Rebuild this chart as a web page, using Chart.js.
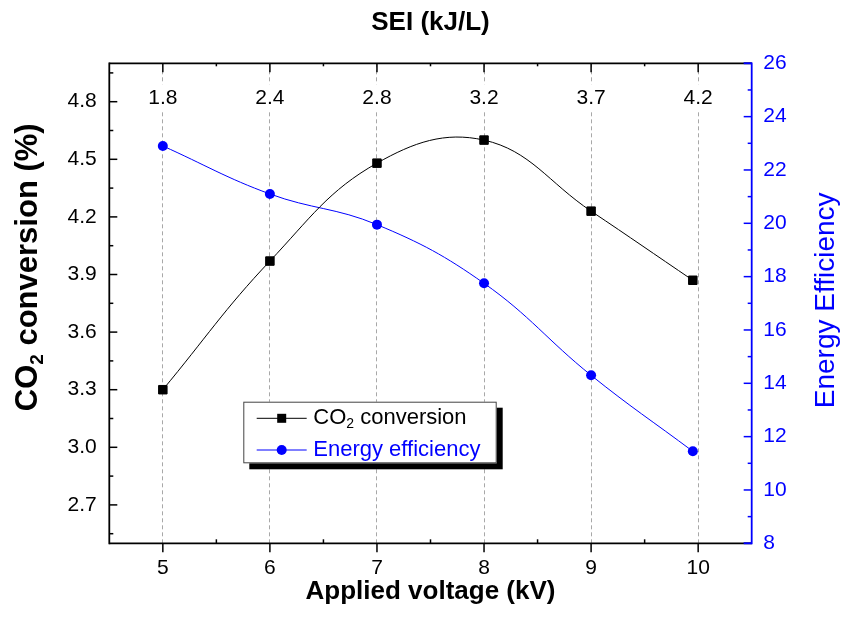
<!DOCTYPE html>
<html>
<head>
<meta charset="utf-8">
<script src="https://cdn.jsdelivr.net/npm/chart.js@4.4.1/dist/chart.umd.min.js"></script>
<style>
  html, body { margin: 0; padding: 0; background: #fff; }
  #wrap { width: 842px; height: 631px; }
</style>
</head>
<body>
<div id="wrap"><canvas id="c" width="842" height="631"></canvas></div>
<script>
// Applied voltage (kV) of each measurement
const voltage = [5, 6, 7, 8, 9, 9.95];
// CO2 conversion (%)
const co2Conversion = [3.30, 3.97, 4.48, 4.60, 4.23, 3.87];
// Energy efficiency
const energyEfficiency = [22.9, 21.1, 19.95, 17.75, 14.3, 11.45];

// Axis ticks
const voltageTicks = [5, 6, 7, 8, 9, 10];
const seiLabels = ['1.8', '2.4', '2.8', '3.2', '3.7', '4.2'];
const co2Ticks = [2.7, 3.0, 3.3, 3.6, 3.9, 4.2, 4.5, 4.8];
const effTicks = [8, 10, 12, 14, 16, 18, 20, 22, 24, 26];

const FONT = "'Liberation Sans', Arial, Helvetica, sans-serif";
const BLUE = '#0000ff';
Chart.defaults.font.family = FONT;
Chart.defaults.color = '#000';

const pts = (ys) => voltage.map((x, i) => ({ x, y: ys[i] }));
const fixTicks = (list) => (scale) => { scale.ticks = list.map(v => ({ value: v })); };

// Frame, inward/outward tick marks, rotated axis titles and the legend box
const framePlugin = {
  id: 'frame',
  afterDatasetsDraw(chart) {
    const { ctx, chartArea: a, scales } = chart;
    const x = scales.x, y = scales.y, y1 = scales.y1;
    ctx.save();
    ctx.lineCap = 'butt';

    const seg = (x0, y0, x1, y1c, color, w) => {
      ctx.strokeStyle = color; ctx.lineWidth = w;
      ctx.beginPath(); ctx.moveTo(x0, y0); ctx.lineTo(x1, y1c); ctx.stroke();
    };

    // left axis ticks (inward)
    co2Ticks.forEach(v => { const p = y.getPixelForValue(v); seg(a.left, p, a.left + 8, p, '#000', 1.5); });
    co2Ticks.concat([co2Ticks[0] - 0.3]).forEach(v => {
      const m = v + 0.15;
      if (m > y.min && m < y.max) { const p = y.getPixelForValue(m); seg(a.left, p, a.left + 4, p, '#000', 1.5); }
    });
    // right axis ticks (inward, blue)
    effTicks.forEach(v => { const p = y1.getPixelForValue(v); seg(a.right, p, a.right - 8, p, BLUE, 1.5); });
    effTicks.forEach(v => {
      const m = v + 1;
      if (m < y1.max) { const p = y1.getPixelForValue(m); seg(a.right, p, a.right - 4, p, BLUE, 1.5); }
    });
    // bottom axis: major outward, minor inward
    voltageTicks.forEach(v => { const p = x.getPixelForValue(v); seg(p, a.bottom, p, a.bottom + 9, '#000', 1.5); });
    voltageTicks.slice(0, -1).forEach(v => { const p = x.getPixelForValue(v + 0.5); seg(p, a.bottom, p, a.bottom - 4, '#000', 1.5); });
    // top axis: inward ticks
    voltageTicks.forEach(v => { const p = x.getPixelForValue(v); seg(p, a.top, p, a.top + 9, '#000', 1.5); });
    voltageTicks.slice(0, -1).forEach(v => { const p = x.getPixelForValue(v + 0.5); seg(p, a.top, p, a.top + 3, '#000', 1.5); });

    // frame
    seg(a.left, a.top, a.right, a.top, '#000', 1.8);
    seg(a.left, a.bottom, a.right, a.bottom, '#000', 1.8);
    seg(a.left, a.top - 0.9, a.left, a.bottom + 0.9, '#000', 1.8);
    seg(a.right - 8, a.top, a.right, a.top, BLUE, 1.8);
    seg(a.right - 8, a.bottom, a.right, a.bottom, BLUE, 1.8);
    seg(a.right, a.top - 0.9, a.right, a.bottom + 0.9, BLUE, 1.8);
    ctx.restore();
  },
  afterDraw(chart) {
    const { ctx, chartArea: a } = chart;
    ctx.save();
    // left title: CO2 conversion (%)
    ctx.translate(28.5, a.top + 204);
    ctx.rotate(-Math.PI / 2);
    ctx.fillStyle = '#000';
    ctx.textBaseline = 'middle';
    ctx.textAlign = 'left';
    const big = 'bold 31px ' + FONT, small = 'bold 19px ' + FONT;
    ctx.font = big; const w1 = ctx.measureText('CO').width;
    ctx.font = small; const w2 = ctx.measureText('2').width;
    ctx.font = big; const w3 = ctx.measureText(' conversion (%)').width;
    let sx = -(w1 + w2 + w3) / 2;
    ctx.font = big; ctx.fillText('CO', sx, 0); sx += w1;
    ctx.font = small; ctx.fillText('2', sx, 9); sx += w2;
    ctx.font = big; ctx.fillText(' conversion (%)', sx, 0);
    ctx.restore();

    // right title: Energy Efficiency
    ctx.save();
    ctx.translate(826, a.top + 237);
    ctx.rotate(-Math.PI / 2);
    ctx.fillStyle = BLUE;
    ctx.font = '28px ' + FONT;
    ctx.textAlign = 'center';
    ctx.textBaseline = 'middle';
    ctx.fillText('Energy Efficiency', 0, 0);
    ctx.restore();

    // legend box with drop shadow
    const bx = a.left + 134, by = a.top + 338.4, bw = 253.4, bh = 61.6;
    ctx.save();
    ctx.fillStyle = '#000';
    ctx.fillRect(bx + 6, by + 6, bw, bh);
    ctx.fillStyle = '#fff';
    ctx.fillRect(bx, by, bw, bh);
    ctx.strokeStyle = '#444'; ctx.lineWidth = 1;
    ctx.strokeRect(bx + 0.5, by + 0.5, bw - 1, bh - 1);

    const rows = [
      { y: by + 16.6, color: '#000', marker: 'rect' },
      { y: by + 48.3, color: BLUE, marker: 'circle' }
    ];
    rows.forEach(r => {
      ctx.strokeStyle = r.color; ctx.lineWidth = 1;
      ctx.beginPath(); ctx.moveTo(bx + 13.4, r.y); ctx.lineTo(bx + 63.4, r.y); ctx.stroke();
      ctx.fillStyle = r.color;
      if (r.marker === 'rect') ctx.fillRect(bx + 38.4 - 4.5, r.y - 4.5, 9, 9);
      else { ctx.beginPath(); ctx.arc(bx + 38.4, r.y, 5, 0, Math.PI * 2); ctx.fill(); }
    });
    ctx.textBaseline = 'middle'; ctx.textAlign = 'left';
    let tx = bx + 70;
    ctx.fillStyle = '#000';
    ctx.font = '22px ' + FONT; ctx.fillText('CO', tx, rows[0].y); tx += ctx.measureText('CO').width;
    ctx.font = '14px ' + FONT; ctx.fillText('2', tx, rows[0].y + 6); tx += ctx.measureText('2').width;
    ctx.font = '22px ' + FONT; ctx.fillText(' conversion', tx, rows[0].y);
    ctx.fillStyle = BLUE;
    ctx.fillText('Energy efficiency', bx + 70, rows[1].y);
    ctx.restore();
  }
};

new Chart(document.getElementById('c'), {
  type: 'line',
  data: {
    datasets: [
      {
        label: 'CO2 conversion',
        data: pts(co2Conversion),
        yAxisID: 'y',
        borderColor: '#000',
        backgroundColor: '#000',
        borderWidth: 1,
        tension: 0.4,
        pointStyle: 'rect',
        pointRadius: 6,
        pointBorderWidth: 1,
        fill: false
      },
      {
        label: 'Energy efficiency',
        data: pts(energyEfficiency),
        yAxisID: 'y1',
        borderColor: BLUE,
        backgroundColor: BLUE,
        borderWidth: 1,
        tension: 0.4,
        pointStyle: 'circle',
        pointRadius: 5,
        pointBorderWidth: 0,
        fill: false
      }
    ]
  },
  options: {
    responsive: false,
    animation: false,
    devicePixelRatio: 1,
    layout: { padding: 0 },
    plugins: { legend: { display: false }, tooltip: { enabled: false } },
    scales: {
      x: {
        type: 'linear', position: 'bottom', min: 4.5, max: 10.5,
        afterBuildTicks: fixTicks(voltageTicks),
        afterFit: (s) => { s.height = 87.7; },
        ticks: { font: { size: 21 }, color: '#000', padding: 12, maxRotation: 0, autoSkip: false, callback: v => String(v) },
        grid: { color: '#a8a8a8', lineWidth: 1, drawTicks: false },
        border: { display: false, dash: [4, 3] },
        title: { display: true, text: 'Applied voltage (kV)', font: { size: 26, weight: 'bold' }, color: '#000', padding: { top: 0, bottom: 24 } }
      },
      xTop: {
        type: 'linear', position: 'top', min: 4.5, max: 10.5,
        afterBuildTicks: fixTicks(voltageTicks),
        afterFit: (s) => { s.height = 63.3; },
        ticks: {
          font: { size: 21 }, color: '#000', mirror: true, padding: 22, maxRotation: 0, autoSkip: false,
          showLabelBackdrop: true, backdropColor: '#fff', backdropPadding: 1,
          callback: (v) => seiLabels[voltageTicks.indexOf(v)]
        },
        grid: { display: false, drawTicks: false },
        border: { display: false },
        title: { display: true, text: 'SEI (kJ/L)', font: { size: 26, weight: 'bold' }, color: '#000', padding: { top: 7, bottom: 0 } }
      },
      y: {
        type: 'linear', position: 'left', min: 2.5, max: 5.0,
        afterBuildTicks: fixTicks(co2Ticks),
        afterFit: (s) => { s.width = 109.3; },
        ticks: { font: { size: 21 }, color: '#000', padding: 12.6, callback: v => v.toFixed(1) },
        grid: { display: false, drawTicks: false },
        border: { display: false }
      },
      y1: {
        type: 'linear', position: 'right', min: 8, max: 26,
        afterBuildTicks: fixTicks(effTicks),
        afterFit: (s) => { s.width = 90.3; },
        ticks: { font: { size: 21 }, color: BLUE, padding: 11.6, callback: v => String(v) },
        grid: { display: false, drawTicks: false },
        border: { display: false }
      }
    }
  },
  plugins: [framePlugin]
});
</script>
</body>
</html>
